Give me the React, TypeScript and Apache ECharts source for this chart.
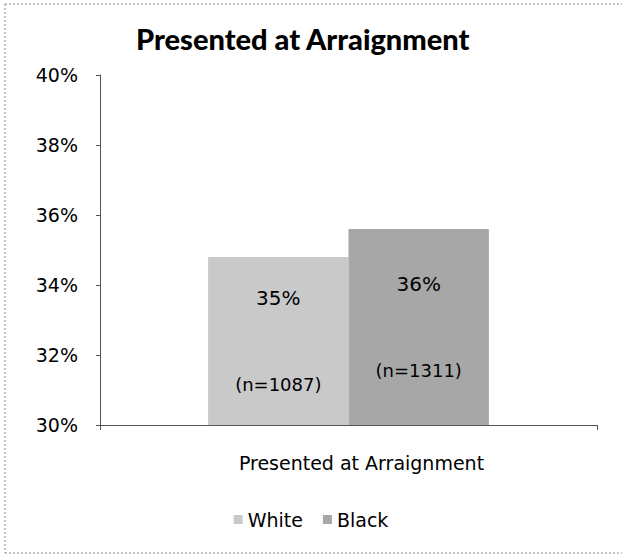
import React, { useEffect, useRef } from "react";
import * as echarts from "echarts";

const categories = ["Presented at Arraignment"];
const seriesNames = ["White", "Black"];
const whiteValues = [34.8];
const blackValues = [35.6];
const whiteLabels = ["35%"];
const blackLabels = ["36%"];
const whiteCounts = ["(n=1087)"];
const blackCounts = ["(n=1311)"];
const yTicks = { min: 30, max: 40, interval: 2 };

const FONT = "'DejaVu Sans', sans-serif";

export default function App() {
  const ref = useRef<HTMLDivElement>(null);
  useEffect(() => {
    if (!ref.current) return;
    const chart = echarts.init(ref.current, undefined, { renderer: "svg" });
    const mkLabel = (labels: string[], counts: string[]) => ({
      show: true,
      position: "inside",
      formatter: (p: any) => `{a|${labels[p.dataIndex]}}\n{b|${counts[p.dataIndex]}}`,
      rich: {
        a: { fontFamily: FONT, fontSize: 20, color: "#000", lineHeight: 87 },
        b: { fontFamily: FONT, fontSize: 18, color: "#000", lineHeight: 87 },
      },
    });
    const border = { stroke: "#888", lineWidth: 1, lineDash: [2, 2] };
    chart.setOption({
      animation: false,
      backgroundColor: "#ffffff",
      title: {
        text: "Presented at Arraignment",
        left: 131,
        top: 19,
        textStyle: { fontFamily: "Lato, sans-serif", fontWeight: 900, fontSize: 29, color: "#000" },
      },
      legend: {
        data: seriesNames,
        bottom: 22,
        left: "center",
        itemWidth: 9,
        itemHeight: 9,
        itemGap: 20,
        icon: "rect",
        textStyle: { fontFamily: FONT, fontSize: 19, color: "#000" },
      },
      grid: { left: 100, right: 25, top: 75, bottom: 131 },
      xAxis: {
        type: "category",
        data: categories,
        axisLine: { lineStyle: { color: "#555", width: 1 } },
        axisTick: { show: true, length: 5, lineStyle: { color: "#555" } },
        axisLabel: { fontFamily: FONT, fontSize: 19, color: "#000", margin: 28, padding: [0, 0, 0, 26] },
      },
      yAxis: {
        type: "value",
        min: yTicks.min,
        max: yTicks.max,
        interval: yTicks.interval,
        splitLine: { show: false },
        axisLine: { show: true, lineStyle: { color: "#555", width: 1 } },
        axisTick: { show: true, length: 4, lineStyle: { color: "#555" } },
        axisLabel: { fontFamily: FONT, fontSize: 19, color: "#000", margin: 22, formatter: "{value}%" },
      },
      series: [
        {
          name: seriesNames[0],
          type: "bar",
          data: whiteValues,
          barGap: "0%",
          barCategoryGap: "43.5%",
          itemStyle: { color: "#c9c9c9" },
          label: mkLabel(whiteLabels, whiteCounts),
        },
        {
          name: seriesNames[1],
          type: "bar",
          data: blackValues,
          itemStyle: { color: "#a7a7a7" },
          label: mkLabel(blackLabels, blackCounts),
        },
      ],
      graphic: [
        { type: "line", shape: { x1: 5, y1: 4, x2: 622, y2: 4 }, style: border, silent: true },
        { type: "line", shape: { x1: 5, y1: 4, x2: 5, y2: 553 }, style: border, silent: true },
        { type: "line", shape: { x1: 5, y1: 553, x2: 622, y2: 553 }, style: border, silent: true },
      ],
    });
    return () => chart.dispose();
  }, []);
  return (
    <div
      ref={ref}
      style={{ position: "fixed", left: 0, top: 0, width: 622, height: 556 }}
    />
  );
}
